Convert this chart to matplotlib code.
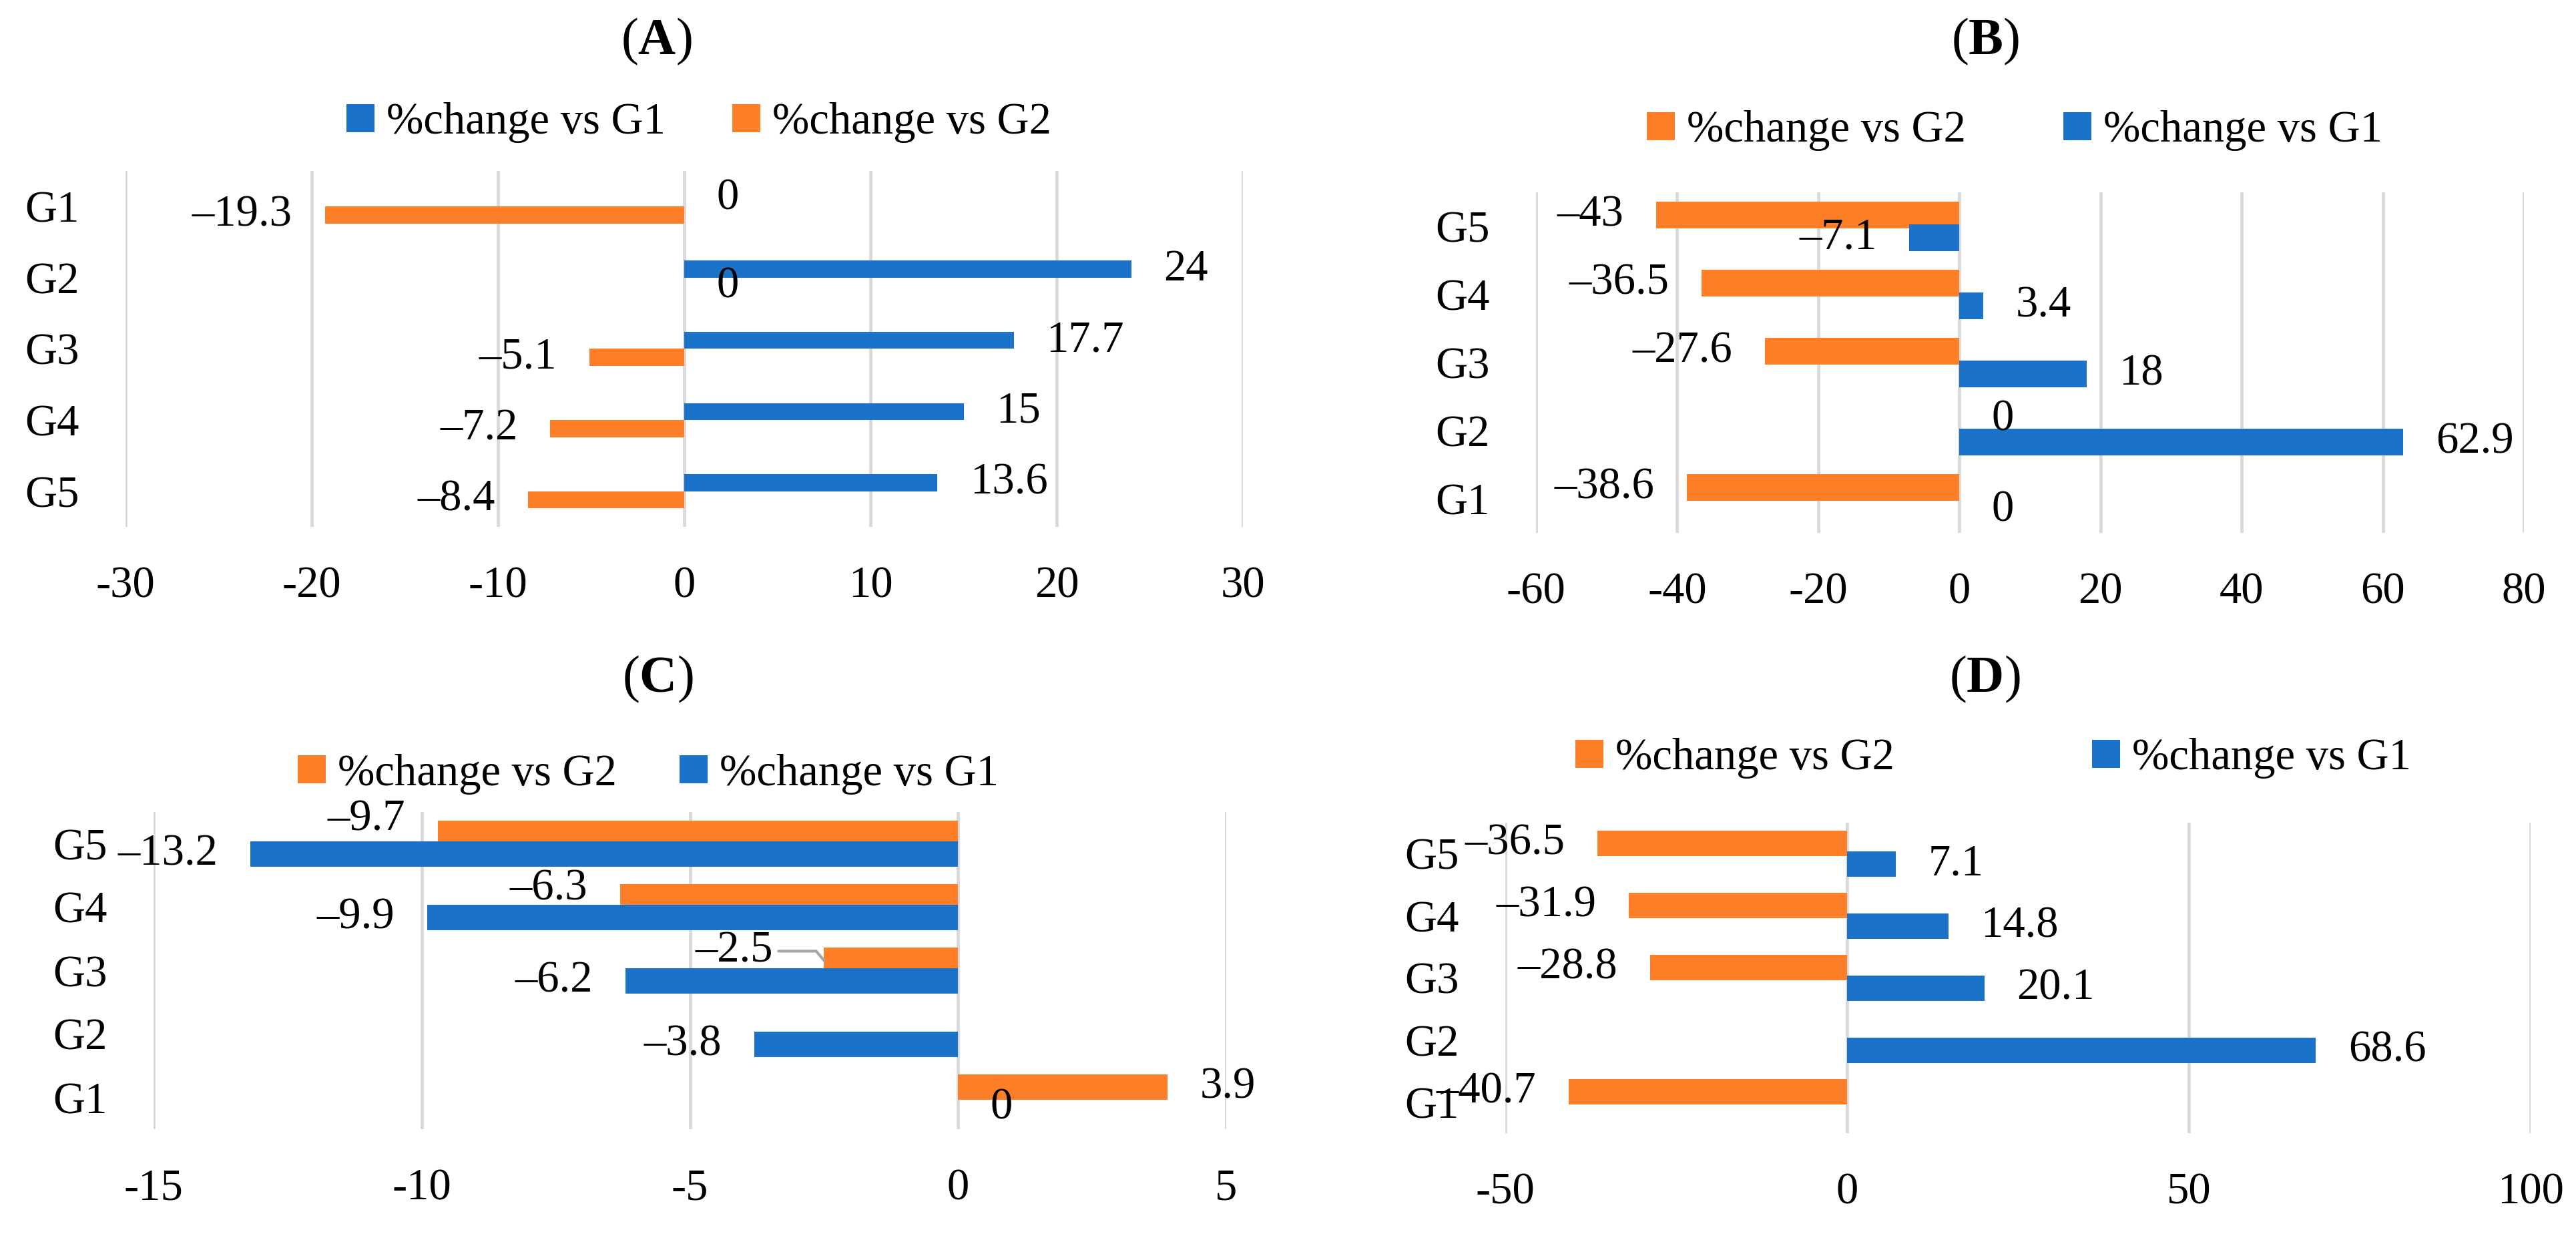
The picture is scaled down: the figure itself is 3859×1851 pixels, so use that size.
import matplotlib

matplotlib.use("Agg")
import matplotlib.pyplot as plt  # noqa: E402
from matplotlib.patches import Patch  # noqa: E402

W, H = 3859, 1851
DPI = 100

plt.rcParams["font.family"] = ["Liberation Serif", "DejaVu Serif"]
plt.rcParams["axes.unicode_minus"] = False
plt.rcParams["mathtext.fontset"] = "custom"
plt.rcParams["mathtext.rm"] = "Liberation Serif"
plt.rcParams["mathtext.bf"] = "Liberation Serif:bold"

BLUE = "#1a73c8"
ORANGE = "#fe7f27"
GRID = "#d9d9d9"
FS = 48

groups = ["G1", "G2", "G3", "G4", "G5"]
lab_g1 = "%change vs G1"
lab_g2 = "%change vs G2"

# values for G1..G5 (None = nothing drawn / no label)
a_vs_g1 = [0, 24, 17.7, 15, 13.6]
a_vs_g2 = [-19.3, 0, -5.1, -7.2, -8.4]
b_vs_g1 = [0, 62.9, 18, 3.4, -7.1]
b_vs_g2 = [-38.6, 0, -27.6, -36.5, -43]
c_vs_g1 = [0, -3.8, -6.2, -9.9, -13.2]
c_vs_g2 = [3.9, None, -2.5, -6.3, -9.7]
d_vs_g1 = [None, 68.6, 20.1, 14.8, 7.1]
d_vs_g2 = [-40.7, None, -28.8, -31.9, -36.5]

a_ticks = [-30, -20, -10, 0, 10, 20, 30]
b_ticks = [-60, -40, -20, 0, 20, 40, 60, 80]
c_ticks = [-15, -10, -5, 0, 5]
d_ticks = [-50, 0, 50, 100]

fig = plt.figure(figsize=(W / DPI, H / DPI), dpi=DPI)


def rect(x0, y0, x1, y1):
    return [x0 / W, 1 - y1 / H, (x1 - x0) / W, (y1 - y0) / H]


def fmt(v):
    return f"{v:g}".replace("-", "\u2013")


def panel(box, ticks, series, bar_h, off, inverted, letter, title_xy,
          legend_xy, colspace, nudges=None, leader=None):
    nudges = nudges or {}
    ax = fig.add_axes(rect(*box))
    sign = -1 if inverted else 1
    handles = []
    for k, (label, vals, color) in enumerate(series):
        shift = sign * off if k == 0 else -sign * off
        for i, v in enumerate(vals):
            if v is None:
                continue
            y = i + shift
            ax.barh(y, v, height=bar_h, color=color, zorder=2)
            dx, dy = nudges.get((k, i), (0, 0))
            gap = 35 if v >= 0 else -35
            if leader == (k, i):
                ax.annotate(fmt(v), (v, y), xytext=(gap + dx, dy),
                            textcoords="offset points", ha="right", va="center",
                            fontsize=FS,
                            arrowprops=dict(arrowstyle="-", color="#a6a6a6", lw=3,
                                            shrinkA=4, shrinkB=0, relpos=(1, 0.5),
                                            connectionstyle="angle,angleA=0,angleB=130,rad=0"))
            else:
                ax.annotate(fmt(v), (v, y), xytext=(gap + dx, dy),
                            textcoords="offset points",
                            ha="left" if v >= 0 else "right", va="center",
                            fontsize=FS)
        handles.append(Patch(facecolor=color, label=label))

    ax.set_xlim(ticks[0], ticks[-1])
    ax.set_xticks(ticks)
    ax.set_yticks(range(len(groups)))
    ax.set_yticklabels(groups)
    if inverted:
        ax.set_ylim(len(groups) - 0.5, -0.5)
    else:
        ax.set_ylim(-0.5, len(groups) - 0.5)
    ax.grid(axis="x", color=GRID, lw=3.5, zorder=0)
    ax.set_axisbelow(True)
    for s in ax.spines.values():
        s.set_visible(False)
    ax.tick_params(axis="x", length=0, pad=42, labelsize=FS)
    ax.tick_params(axis="y", length=0, pad=50, labelsize=FS)

    # "(" and ")" regular, letter bold
    fig.text(title_xy[0] / W, 1 - title_xy[1] / H, "($\\mathbf{" + letter + "}$)",
             ha="center", va="center", fontsize=56)
    ax.legend(handles=handles, loc="center",
              bbox_to_anchor=(legend_xy[0] / W, 1 - legend_xy[1] / H),
              bbox_transform=fig.transFigure, ncol=2, frameon=False, fontsize=FS,
              handlelength=0.63, handleheight=0.6, handletextpad=0.27,
              columnspacing=colspace, borderpad=0, borderaxespad=0)
    return ax


panel((188, 256, 1862, 789), a_ticks,
      [(lab_g1, a_vs_g1, BLUE), (lab_g2, a_vs_g2, ORANGE)],
      0.24, 0.12, True, "A", (983, 62), (1047, 184), 1.5)

panel((2301, 288, 3781, 798), b_ticks,
      [(lab_g2, b_vs_g2, ORANGE), (lab_g1, b_vs_g1, BLUE)],
      0.39, 0.165, False, "B", (2974, 62), (3018, 196), 2.2)

panel((230, 1216, 1837, 1691), c_ticks,
      [(lab_g2, c_vs_g2, ORANGE), (lab_g1, c_vs_g1, BLUE)],
      0.4, 0.16, False, "C", (985, 1017), (971, 1159), 1.4,
      nudges={(0, 4): (0, 15), (0, 3): (0, 9), (0, 2): (-20, 10)},
      leader=(0, 2))

panel((2255, 1232, 3791, 1697), d_ticks,
      [(lab_g2, d_vs_g2, ORANGE), (lab_g1, d_vs_g1, BLUE)],
      0.41, 0.165, False, "D", (2973, 1017), (2986, 1136), 4.45)

fig.savefig("out.png", dpi=DPI)
plt.close(fig)
